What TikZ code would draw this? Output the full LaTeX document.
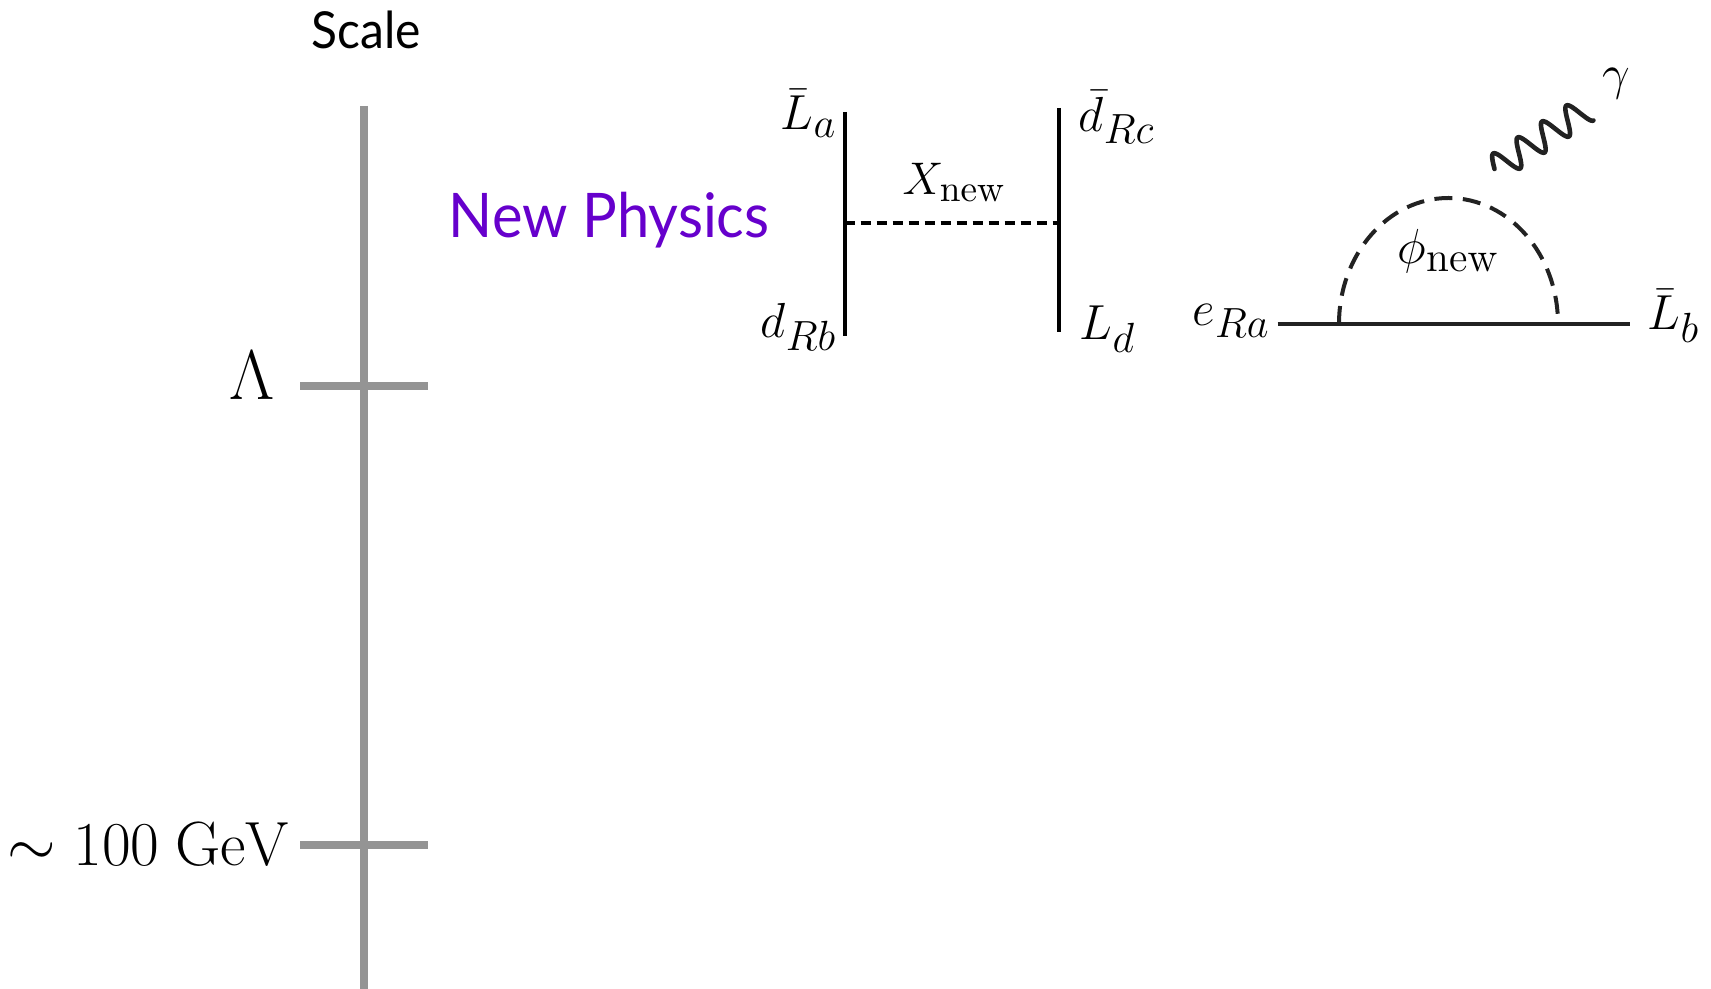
\documentclass[tikz,border=0pt]{standalone}
\usepackage{fix-cm}
\usepackage{amssymb}
\usepackage[no-math]{fontspec}
\setmainfont{Lato}
\newfontfamily\gillfont[FakeStretch=0.94]{Lato}
\DeclareMathSizes{14}{14}{12}{8}
\DeclareMathSizes{13}{13}{10.6}{8}
\definecolor{scalegray}{HTML}{949494}
\definecolor{npurple}{HTML}{6600CC}
\definecolor{loopblack}{HTML}{222222}
\tikzset{
	scaleline/.style={color=scalegray,line width=8*0.2845pt},
	fermion/.style={color=black,line width=4*0.2845pt},
	lbl/.style={inner sep=0pt,anchor=base west,font=\fontsize{14}{16}\selectfont},
	lblsmall/.style={lbl,font=\fontsize{13}{15}\selectfont},
}
\begin{document}
\begin{tikzpicture}[line join=round,x=0.01cm,y=-0.01cm]
	\useasboundingbox (0,0) rectangle (1711,989);
	% Scale axis
	\coordinate (top) at (364,106);
	\coordinate (bottom) at (364,989);
	\coordinate (tickAl) at (300,386);
	\coordinate (tickAr) at (428,386);
	\coordinate (tickBl) at (300,845);
	\coordinate (tickBr) at (428,845);
	\draw[scaleline] (top)--(bottom);
	\draw[scaleline] (tickAl)--(tickAr);
	\draw[scaleline] (tickBl)--(tickBr);
	\node[anchor=base,inner sep=0pt,font=\gillfont\fontsize{14.5}{16}\selectfont] (scale) at (366,49) {Scale};
	\node[lbl,font=\fontsize{20}{22}\selectfont] (lambda) at (229,400) {$\Lambda$};
	\node[lbl,font=\fontsize{17.75}{20}\selectfont] (ew) at (7,866) {$\sim 100~\mathrm{GeV}$};
	\node[lbl,text=npurple,font=\gillfont\fontsize{17.5}{20}\selectfont] (np) at (448,238) {New Physics};
	% Four fermion vertex
	\coordinate (La) at (844.5,112);
	\coordinate (Rb) at (844.5,336);
	\coordinate (Rc) at (1058.5,108);
	\coordinate (Ld) at (1058.5,332);
	\coordinate (Xl) at (844.5,223);
	\coordinate (Xr) at (1058.5,223);
	\draw[fermion] (La)--(Rb);
	\draw[fermion] (Rc)--(Ld);
	\draw[fermion,dash pattern=on 10*0.2845pt off 6*0.2845pt] (Xl)--(Xr);
	\node[lbl] (labLa) at (780,130) {$\bar{L}_a$};
	\node[lbl] (labRb) at (760,338) {$d_{Rb}$};
	\node[lbl] (labRc) at (1078,132) {$\bar{d}_{Rc}$};
	\node[lbl] (labLd) at (1079,340) {$L_d$};
	\node[lblsmall] (labX) at (902,195) {$X_{\mathrm{new}}$};
	% Dipole loop
	\coordinate (Ra) at (1277.5,324);
	\coordinate (Lb) at (1630,324);
	\coordinate (loopl) at (1339,324);
	\draw[fermion,color=loopblack] (Ra)--(Lb);
	\draw[color=loopblack,line width=4*0.2845pt,dash pattern=on 18*0.2845pt off 10.5*0.2845pt]
		(loopl) arc[start angle=180,end angle=0,x radius=109.5,y radius=-126];
	\draw[color=loopblack,line width=4.6*0.2845pt,line cap=round]
		plot[domain=-0.25:3.5,samples=120,variable=\t]
		({1500.6+24.4*\t-7.4*cos(360*\t)},{165-16*\t-11.5*cos(360*\t)});
	\node[lbl] (labRa) at (1192,326) {$e_{Ra}$};
	\node[lbl] (labLb) at (1647,330) {$\bar{L}_b$};
	\node[lbl] (labphi) at (1397,264) {$\phi_{\mathrm{new}}$};
	\node[lbl] (labgamma) at (1602,90) {$\gamma$};
\end{tikzpicture}
\end{document}
